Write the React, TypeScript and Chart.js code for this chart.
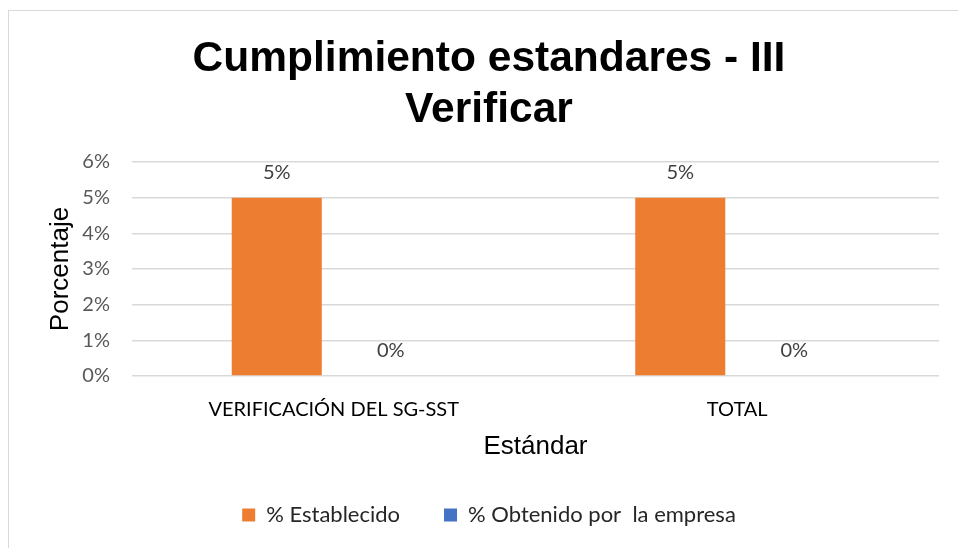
import React, { useEffect, useRef } from "react";
import { Chart, registerables } from "chart.js";

Chart.register(...registerables);

const categories = ["VERIFICACIÓN DEL SG-SST", "TOTAL"];
const establecido = [5, 5];
const obtenido = [0, 0];
const seriesNames = ["% Establecido", "% Obtenido por  la empresa"];
const titleLines = ["Cumplimiento estandares - III", "Verificar"];
const yTitle = "Porcentaje";
const xTitle = "Estándar";

const dataLabels = {
  id: "dataLabels",
  afterDatasetsDraw(chart: any) {
    const ctx = chart.ctx;
    ctx.save();
    ctx.font = "20px Lato";
    ctx.fillStyle = "#404040";
    ctx.textAlign = "center";
    ctx.textBaseline = "middle";
    chart.data.datasets.forEach((ds: any, i: number) => {
      const meta = chart.getDatasetMeta(i);
      meta.data.forEach((el: any, j: number) => {
        ctx.fillText(ds.data[j] + "%", el.x, el.y - 25);
      });
    });
    ctx.restore();
  },
};

export default function App() {
  const ref = useRef<HTMLCanvasElement>(null);
  useEffect(() => {
    const chart = new Chart(ref.current!, {
      type: "bar",
      data: {
        labels: categories,
        datasets: [
          {
            label: seriesNames[0],
            data: establecido,
            backgroundColor: "#ED7D31",
            categoryPercentage: 0.565,
            barPercentage: 0.79,
          },
          {
            label: seriesNames[1],
            data: obtenido,
            backgroundColor: "#4472C4",
            categoryPercentage: 0.565,
            barPercentage: 0.79,
          },
        ],
      },
      options: {
        responsive: false,
        animation: false,
        layout: { padding: { left: 30, right: 19, top: 0, bottom: 12 } },
        plugins: {
          title: {
            display: true,
            text: titleLines,
            color: "#000",
            font: { family: "Liberation Sans", size: 42.5, weight: "bold", lineHeight: 1.2 },
            padding: { top: 23, bottom: 26 },
          },
          legend: {
            position: "bottom",
            labels: {
              boxWidth: 13,
              boxHeight: 13,
              padding: 44,
              color: "#262626",
              font: { family: "Lato", size: 22 },
            },
          },
          tooltip: { enabled: false },
        },
        scales: {
          x: {
            grid: { display: false, drawTicks: false },
            border: { display: false },
            ticks: { color: "#000", font: { family: "Lato", size: 20 }, padding: 22 },
            title: {
              display: true,
              text: xTitle,
              color: "#000",
              font: { family: "Liberation Sans", size: 26 },
              padding: { top: 0, bottom: -2 },
            },
            afterFit(scale: any) {
              scale.height = 84;
            },
          },
          y: {
            min: 0,
            max: 6,
            ticks: {
              stepSize: 1,
              color: "#595959",
              font: { family: "Lato", size: 20 },
              padding: 22,
              callback: (v: any) => v + "%",
            },
            grid: { color: "#d9d9d9", lineWidth: 1.5, drawTicks: false },
            border: { display: false },
            title: {
              display: true,
              text: yTitle,
              color: "#000",
              font: { family: "Liberation Sans", size: 26 },
              padding: { top: 6, bottom: 0 },
            },
            afterFit(scale: any) {
              scale.width = 93;
            },
          },
        },
      },
      plugins: [dataLabels],
    });
    return () => chart.destroy();
  }, []);

  return (
    <div
      style={{
        position: "fixed",
        left: 8,
        top: 10,
        width: 949,
        height: 537,
        borderTop: "1px solid #d9d9d9",
        borderLeft: "1px solid #d9d9d9",
        background: "#fff",
      }}
    >
      <canvas ref={ref} width={949} height={537} style={{ display: "block" }} />
    </div>
  );
}
